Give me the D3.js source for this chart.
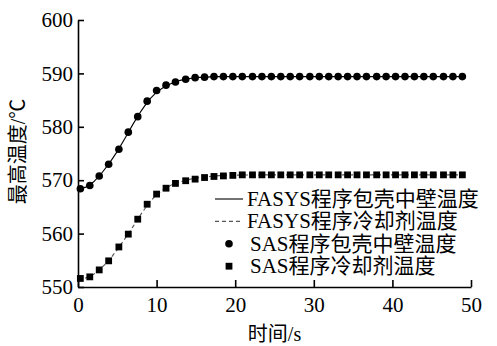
<html lang="zh">
  <head>
    <meta charset="utf-8">
    <title>最高温度</title>
    <script src="https://d3js.org/d3.v7.min.js"></script>
    <style>
    body { margin: 0; background: #fff; }
    .chart .axis path, .chart .axis line {
      stroke: #000;
      stroke-width: 1.6;
    }
    </style>
  </head>
  <body>
    <svg class="chart"></svg>
    <script>
      // SAS 程序计算点 (s)
      var sasTime = [0.3,1.5,2.7,3.9,5.2,6.4,7.6,8.8,10.0,11.2,12.4,13.7,14.9,16.1,17.3,18.5,19.7,20.9,22.2,23.4,
                     24.6,25.8,27.0,28.2,29.5,30.7,31.9,33.1,34.3,35.5,36.7,38.0,39.2,40.4,41.6,42.8,44.0,45.2,46.5,47.7,48.9];
      var sasClad = [568.4,569.0,570.8,573.0,575.8,579.0,581.9,584.8,586.8,587.8,588.4,588.9,589.2,589.3,589.4,589.4,589.4,589.4,589.4,589.4,
                     589.4,589.4,589.4,589.4,589.4,589.4,589.4,589.4,589.4,589.4,589.4,589.4,589.4,589.4,589.4,589.4,589.4,589.4,589.4,589.4,589.4];
      var sasCool = [551.6,551.9,553.2,554.9,557.5,559.9,562.7,565.5,567.4,568.5,569.4,569.9,570.2,570.5,570.7,570.8,570.9,571.0,571.0,571.0,
                     571.0,571.0,571.0,571.0,571.0,571.0,571.0,571.0,571.0,571.0,571.0,571.0,571.0,571.0,571.0,571.0,571.0,571.0,571.0,571.0,571.0];
      // FASYS 程序曲线
      var fasysTime = [0,1,2,3,4,5,6,7,8,9,10,11,12,13,14,15,16,17,18,19,20,25,30,35,40,45,49];
      var fasysClad = [568.3,568.7,569.7,571.3,573.2,575.4,577.9,580.5,582.9,585.0,586.5,587.5,588.2,588.7,589.0,589.2,589.3,589.35,589.4,589.4,589.4,589.4,589.4,589.4,589.4,589.4,589.4];
      var fasysCool = [551.5,551.7,552.4,553.6,555.1,557.0,559.1,561.3,563.6,565.7,567.3,568.4,569.2,569.7,570.1,570.4,570.6,570.75,570.85,570.9,570.95,571.0,571.0,571.0,571.0,571.0,571.0];
      var xTicks = [0,10,20,30,40,50];
      var yTicks = [550,560,570,580,590,600];
      var legendLabels = ["FASYS程序包壳中壁温度","FASYS程序冷却剂温度","SAS程序包壳中壁温度","SAS程序冷却剂温度"];

      var font = "'Liberation Serif', 'Noto Sans CJK SC', serif";
      var width = 497, height = 346;
      var svg = d3.select(".chart").attr("width", width).attr("height", height);

      var x = d3.scaleLinear().domain([0, 50]).range([78, 471]);
      var y = d3.scaleLinear().domain([550, 600]).range([287, 20]);

      var line = d3.line()
        .x(function(d){ return x(d[0]); })
        .y(function(d){ return y(d[1]); });

      svg.append("path")
        .datum(d3.zip(fasysTime, fasysClad))
        .attr("d", line)
        .attr("fill", "none").attr("stroke", "#000").attr("stroke-width", 1.1);
      svg.append("path")
        .datum(d3.zip(fasysTime, fasysCool))
        .attr("d", line)
        .attr("fill", "none").attr("stroke", "#555").attr("stroke-width", 1.1)
        .attr("stroke-dasharray", "4,3");

      svg.selectAll("circle.sas")
        .data(d3.zip(sasTime, sasClad))
        .enter().append("circle")
        .attr("class", "sas")
        .attr("cx", function(d){ return x(d[0]); })
        .attr("cy", function(d){ return y(d[1]); })
        .attr("r", 3.8)
        .attr("fill", "#000");
      svg.selectAll("rect.sas")
        .data(d3.zip(sasTime, sasCool))
        .enter().append("rect")
        .attr("class", "sas")
        .attr("x", function(d){ return x(d[0]) - 3.4; })
        .attr("y", function(d){ return y(d[1]) - 3.4; })
        .attr("width", 6.8).attr("height", 6.8)
        .attr("fill", "#000");

      // axes
      svg.append("g").attr("class", "axis")
        .attr("transform", "translate(0," + y(550) + ")")
        .call(d3.axisBottom(x).tickValues(xTicks).tickSizeInner(-7).tickSizeOuter(0).tickPadding(10));
      svg.append("g").attr("class", "axis")
        .attr("transform", "translate(" + x(0) + ",0)")
        .call(d3.axisLeft(y).tickValues(yTicks).tickSizeInner(-6).tickSizeOuter(0).tickPadding(5));
      svg.selectAll(".axis").attr("font-family", font).attr("font-size", 21);
      svg.selectAll(".axis text").attr("fill", "#000");

      svg.append("text")
        .attr("x", (x(0) + x(50)) / 2)
        .attr("y", 341)
        .attr("text-anchor", "middle")
        .attr("font-family", font)
        .attr("font-size", 20)
        .text("时间/s");
      svg.append("text")
        .attr("transform", "translate(25," + ((y(550) + y(600)) / 2 - 2) + ") rotate(-90)")
        .attr("text-anchor", "middle")
        .attr("font-family", font)
        .attr("font-size", 20)
        .text("最高温度/℃");

      // legend
      var lg = svg.append("g").selectAll("g")
        .data(legendLabels)
        .enter().append("g")
        .attr("transform", function(d, i){ return "translate(229," + (199 + i * 22.4) + ")"; });
      lg.filter(function(d, i){ return i < 2; }).append("line")
        .attr("x1", -14).attr("x2", 14)
        .attr("stroke", function(d, i){ return i == 0 ? "#000" : "#555"; })
        .attr("stroke-width", 1.1)
        .attr("stroke-dasharray", function(d, i){ return i == 0 ? null : "4,3"; });
      lg.filter(function(d, i){ return i == 2; }).append("circle")
        .attr("r", 3.8).attr("fill", "#000");
      lg.filter(function(d, i){ return i == 3; }).append("rect")
        .attr("x", -3.4).attr("y", -3.4).attr("width", 6.8).attr("height", 6.8).attr("fill", "#000");
      lg.append("text")
        .attr("x", function(d, i){ return i < 2 ? 18 : 21; })
        .attr("y", 7)
        .attr("font-family", font)
        .attr("font-size", 21)
        .text(function(d){ return d; });
    </script>
  </body>
</html>
